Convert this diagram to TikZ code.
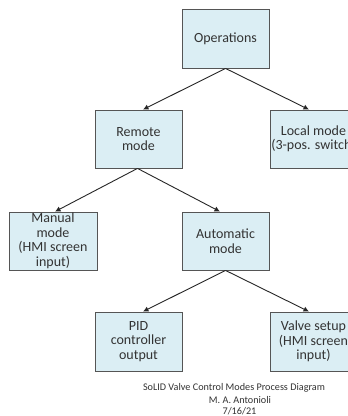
\documentclass[tikz,border=0pt]{standalone}
\usepackage{fontspec}
\setmainfont{Carlito}
\usetikzlibrary{arrows.meta}
\definecolor{boxfill}{HTML}{DBEEF4}
\definecolor{boxline}{HTML}{555555}
\definecolor{txt}{HTML}{333333}
\begin{document}
\begin{tikzpicture}[x=1bp,y=-1bp,
  box/.style={draw=boxline, line width=0.8bp, fill=boxfill, minimum width=87bp, minimum height=58bp,
    inner sep=0pt, align=center, text=txt, font=\fontsize{14bp}{14.5bp}\selectfont},
  arr/.style={draw=black!85, line width=0.9bp, -{Latex[length=5.5bp,width=5.5bp]}},
  captext/.style={text=txt, inner sep=0pt, font=\fontsize{10.2bp}{11.5bp}\selectfont}]
\useasboundingbox (0,0) rectangle (348,416);
\clip (0,0) rectangle (348,416);
\fill[white] (0,0) rectangle (348,416);
\node[box, minimum height=59bp] (ops) at (225.5,38.5) {Operations};
\node[box] (remote) at (138.5,139) {Remote\\mode};
\node[box] (local) at (313.5,139) {Local mode\\(3-pos. switch)};
\node[box, minimum width=88bp] (manual) at (53,241) {Manual\\mode\\(HMI screen\\input)};
\node[box] (auto) at (225.5,241) {Automatic\\mode};
\node[box, minimum height=59bp] (pid) at (138.5,341.5) {PID\\controller\\output};
\node[box, minimum height=59bp] (valve) at (313.5,341.5) {Valve setup\\(HMI screen\\input)};
\draw[arr] (ops.south) -- ([xshift=4.5bp]remote.north);
\draw[arr] (ops.south) -- ([xshift=-4.5bp]local.north);
\draw[arr] ([xshift=-1bp]remote.south) -- ([xshift=2bp]manual.north);
\draw[arr] ([xshift=-1bp]remote.south) -- ([xshift=-5.5bp]auto.north);
\draw[arr] (auto.south) -- ([xshift=4.5bp]pid.north);
\draw[arr] (auto.south) -- ([xshift=-4.5bp]valve.north);
\node[captext] (title) at (234,388) {SoLID Valve Control Modes Process Diagram};
\node[captext] (author) at (240,400) {M. A. Antonioli};
\node[captext] (date) at (239.5,411) {7/16/21};
\end{tikzpicture}
\end{document}
